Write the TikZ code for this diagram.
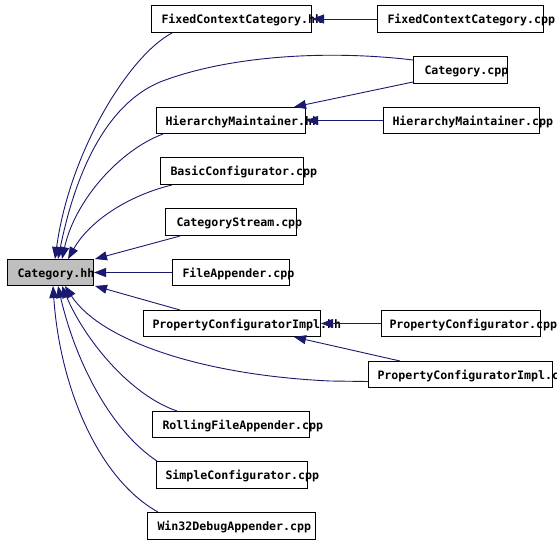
\documentclass[tikz,border=0pt]{standalone}
\usepackage{fontspec}
\newfontfamily\lblfont{DejaVu Sans Mono}
\usetikzlibrary{arrows.meta}
\definecolor{edgeblue}{HTML}{191970}
\definecolor{headgray}{HTML}{BFBFBF}
\newcommand\fbl[3]{\makebox[#1pt][l]{\hspace{#2pt}#3}}
\tikzset{
  filebox/.style={draw=black, line width=1pt, inner sep=0pt, minimum height=27pt,
    anchor=north west, text height=9pt, text depth=0pt,
    font=\lblfont\bfseries\fontsize{11.6pt}{12pt}\selectfont},
  edge/.style={draw=edgeblue, line width=0.9pt, -{Triangle[length=12pt,width=9pt]}}
}
\begin{document}
\begin{tikzpicture}[x=1pt,y=-1pt]
\useasboundingbox (0,0) rectangle (557,543);
% nodes
\node[filebox, fill=headgray, minimum height=26pt] (cat) at (7,259) {\fbl{86}{10}{Category.hh}};
\node[filebox] (fch) at (151,5) {\fbl{160}{10}{FixedContextCategory.hh}};
\node[filebox] (fcc) at (377,5) {\fbl{166}{10}{FixedContextCategory.cpp}};
\node[filebox] (ccpp) at (413,56) {\fbl{94}{11}{Category.cpp}};
\node[filebox, minimum height=26pt] (hmh) at (156,107) {\fbl{149}{9}{HierarchyMaintainer.hh}};
\node[filebox, minimum height=26pt] (hmc) at (383,107) {\fbl{156}{9}{HierarchyMaintainer.cpp}};
\node[filebox] (bc) at (160,157) {\fbl{143}{10}{BasicConfigurator.cpp}};
\node[filebox] (cs) at (165,208) {\fbl{131}{11}{CategoryStream.cpp}};
\node[filebox, minimum height=26pt] (fa) at (172,259) {\fbl{117}{10}{FileAppender.cpp}};
\node[filebox, minimum height=26pt] (pcih) at (143,310) {\fbl{177}{9}{PropertyConfiguratorImpl.hh}};
\node[filebox, minimum height=26pt] (pcc) at (381,310) {\fbl{159}{8}{PropertyConfigurator.cpp}};
\node[filebox, minimum height=26pt] (pcic) at (368,361) {\fbl{184}{9}{PropertyConfiguratorImpl.cpp}};
\node[filebox, minimum height=26pt] (rfa) at (152,411) {\fbl{157}{10}{RollingFileAppender.cpp}};
\node[filebox] (sc) at (156,461) {\fbl{151}{9}{SimpleConfigurator.cpp}};
\node[filebox] (w32) at (147,512) {\fbl{168}{10}{Win32DebugAppender.cpp}};
% edges
\draw[edge] (fcc.west) -- (fch.east);
\draw[edge] ([xshift=21pt]fch.south west) .. controls (130,55) and (70,150) .. ([xshift=48pt]cat.north west);
\draw[edge] ([yshift=-4pt]ccpp.north west) .. controls (330,50) and (230,55) .. (160,82) .. controls (105,105) and (75,175) .. ([xshift=51pt]cat.north west);
\draw[edge] ([yshift=2pt]ccpp.south west) -- ([xshift=-12pt]hmh.north east);
\draw[edge] (hmc.west) -- (hmh.east);
\draw[edge] ([xshift=7pt]hmh.south west) .. controls (120,150) and (75,200) .. ([xshift=55pt]cat.north west);
\draw[edge] ([xshift=12pt]bc.south west) .. controls (130,195) and (90,220) .. ([xshift=61pt]cat.north west);
\draw[edge] ([xshift=15pt]cs.south west) -- ([xshift=1pt]cat.north east);
\draw[edge] (fa.west) -- (cat.east);
\draw[edge] ([xshift=37pt]pcih.north west) -- ([xshift=1pt]cat.south east);
\draw[edge] (pcc.west) -- (pcih.east);
\draw[edge] ([xshift=32pt]pcic.north west) -- ([xshift=-27pt]pcih.south east);
\draw[edge] ([yshift=-7pt]pcic.west) -- (330,381) .. controls (200,375) and (100,340) .. ([xshift=58pt]cat.south west);
\draw[edge] ([xshift=25pt]rfa.north west) .. controls (130,395) and (85,340) .. ([xshift=55pt]cat.south west);
\draw[edge] ([xshift=1pt]sc.north west) .. controls (110,430) and (75,360) .. ([xshift=51pt]cat.south west);
\draw[edge] ([xshift=11pt]w32.north west) .. controls (100,480) and (60,390) .. ([xshift=46pt]cat.south west);
\end{tikzpicture}
\end{document}
